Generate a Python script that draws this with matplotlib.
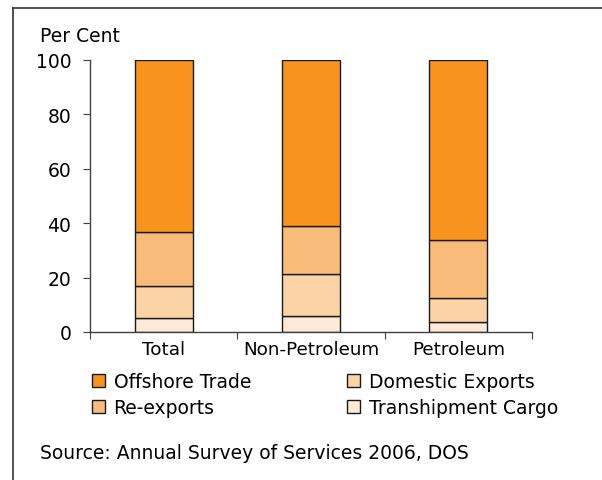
import matplotlib.pyplot as plt
import numpy as np
from matplotlib.lines import Line2D

categories = ['Total', 'Non-Petroleum', 'Petroleum']
## segment values (per cent), bottom to top
transhipment = [5.3, 6.0, 3.8]
domestic = [11.6, 15.3, 8.8]
reexports = [19.9, 17.7, 21.2]
offshore = [63.2, 61.0, 66.2]

series = [('Transhipment Cargo', transhipment, '#FDE9D5'),
          ('Domestic Exports', domestic, '#FBD3A6'),
          ('Re-exports', reexports, '#F9BB7A'),
          ('Offshore Trade', offshore, '#F7931E')]

fs = 13.5
plt.rcParams['font.family'] = 'DejaVu Sans'
fig = plt.figure(figsize=(6.02, 4.81), dpi=100)
ax = fig.add_axes([90/602, 148/481, 442/602, 272/481])

x = np.arange(len(categories))
bottom = np.zeros(len(categories))
bars = {}
for name, vals, col in series:
    bars[name] = ax.bar(x, vals, 0.395, bottom=bottom, color=col,
                        edgecolor='#1a1a1a', linewidth=1.0)
    bottom += np.array(vals)

ax.set_xlim(-0.5, 2.5)
ax.set_ylim(0, 100)
ax.set_yticks([0, 20, 40, 60, 80, 100])
ax.set_xticks([-0.5, 0.5, 1.5, 2.5])
ax.set_xticklabels([])
ax.set_xticks(x, minor=True)
ax.set_xticklabels(categories, minor=True)
ax.tick_params(axis='x', which='major', length=5, direction='out', color='#404040')
ax.tick_params(axis='x', which='minor', length=0, pad=6, labelsize=13.2)
ax.tick_params(axis='y', length=5, direction='out', color='#404040', labelsize=fs, pad=8.5)
for s in ['top', 'right']:
    ax.spines[s].set_visible(False)
for s in ['left', 'bottom']:
    ax.spines[s].set_color('#404040')
    ax.spines[s].set_linewidth(1.0)

fig.text(40/602, 1 - 42/481, 'Per Cent', fontsize=fs, va='baseline')

## legend as two single-column blocks
legopts = dict(loc='center left', frameon=False, fontsize=fs,
               handlelength=0.7, handleheight=0.7, handletextpad=0.45,
               labelspacing=0.38, borderpad=0, borderaxespad=0)
fig.legend([bars['Offshore Trade'], bars['Re-exports']],
           ['Offshore Trade', 'Re-exports'],
           bbox_to_anchor=(92/602, 1 - 395.5/481), **legopts)
fig.legend([bars['Domestic Exports'], bars['Transhipment Cargo']],
           ['Domestic Exports', 'Transhipment Cargo'],
           bbox_to_anchor=(347/602, 1 - 395.5/481), **legopts)

fig.text(40/602, 1 - 459/481, 'Source: Annual Survey of Services 2006, DOS',
         fontsize=fs, va='baseline')

## outer frame (top and left edges only visible)
fig.add_artist(Line2D([13/602, 1], [1 - 9/481, 1 - 9/481], color='#333333', lw=1.2))
fig.add_artist(Line2D([13/602, 13/602], [0, 1 - 9/481], color='#333333', lw=1.2))

fig.savefig('out.png', dpi=100)
